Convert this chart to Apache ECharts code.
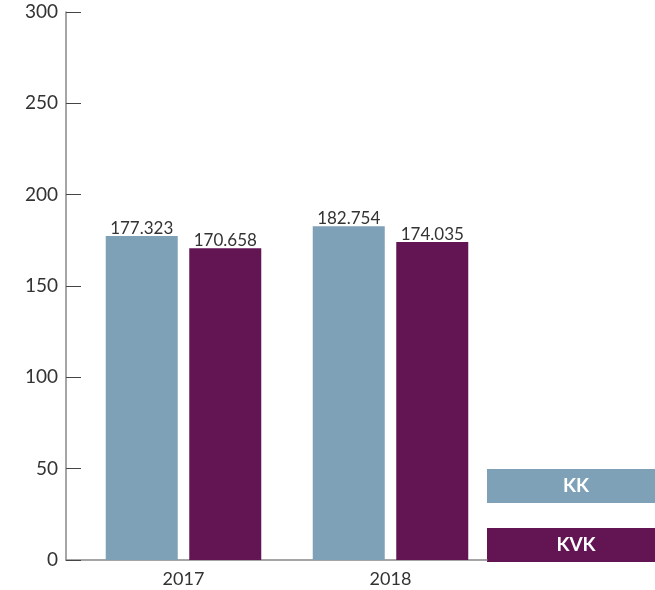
<!DOCTYPE html>
<html>
<head>
<meta charset="utf-8">
<script src="https://cdn.jsdelivr.net/npm/echarts@6/dist/echarts.min.js"></script>
<style>
  html, body { margin: 0; padding: 0; background: #fff; }
  #chart { width: 655px; height: 590px; }
</style>
</head>
<body>
<div id="chart"></div>
<script>
// data
var years = ["2017", "2018"];
var kk = [177.323, 182.754];
var kvk = [170.658, 174.035];
var seriesNames = ["KK", "KVK"];
var colors = ["#7ea1b8", "#621453"];

var myChart = echarts.init(document.getElementById("chart"));
var fontFamily = "Lato, 'Open Sans', sans-serif";

function fmt(v) {
  return v.toFixed(3);
}

var option = {
  animation: false,
  textStyle: { fontFamily: fontFamily },
  grid: [
    // axes frame
    { left: 66, right: 168, top: 12, bottom: 30 },
    // bars (shifted to match the original group positions)
    { left: 80, right: 161, top: 12, bottom: 30 }
  ],
  xAxis: [
    {
      gridIndex: 0,
      type: "category",
      data: years,
      axisLine: { lineStyle: { color: "#888", width: 1.5 } },
      axisTick: { show: false },
      axisLabel: { show: false }
    },
    {
      gridIndex: 1,
      type: "category",
      data: years,
      axisLine: { show: false },
      axisTick: { show: false },
      axisLabel: { color: "#333", fontSize: 18, margin: 10, fontFamily: fontFamily }
    }
  ],
  yAxis: [
    {
      gridIndex: 0,
      type: "value",
      min: 0,
      max: 300,
      interval: 50,
      axisLine: { show: true, lineStyle: { color: "#888", width: 1.5 } },
      axisTick: { show: true, inside: true, length: 15, lineStyle: { color: "#444" } },
      axisLabel: { color: "#333", fontSize: 19, margin: 8, fontFamily: fontFamily },
      splitLine: { show: false }
    },
    {
      gridIndex: 1,
      type: "value",
      min: 0,
      max: 300,
      interval: 50,
      show: false
    }
  ],
  series: [
    {
      name: seriesNames[0],
      type: "bar",
      xAxisIndex: 1,
      yAxisIndex: 1,
      barWidth: 72,
      barGap: "16%",
      data: kk,
      itemStyle: { color: colors[0] },
      label: {
        show: true,
        position: "top",
        distance: -1,
        color: "#333",
        fontSize: 17,
        fontFamily: fontFamily,
        formatter: function (p) { return fmt(p.value); }
      }
    },
    {
      name: seriesNames[1],
      type: "bar",
      xAxisIndex: 1,
      yAxisIndex: 1,
      barWidth: 72,
      barGap: "16%",
      data: kvk,
      itemStyle: { color: colors[1] },
      label: {
        show: true,
        position: "top",
        distance: -1,
        color: "#333",
        fontSize: 17,
        fontFamily: fontFamily,
        formatter: function (p) { return fmt(p.value); }
      }
    }
  ],
  // legend boxes
  graphic: [
    {
      type: "rect",
      left: 487, top: 469,
      shape: { width: 168, height: 34 },
      style: { fill: colors[0] }
    },
    {
      type: "text",
      x: 576, y: 486,
      style: {
        text: seriesNames[0], fill: "#fff", font: "bold 19px " + fontFamily,
        textAlign: "center", textVerticalAlign: "middle"
      }
    },
    {
      type: "rect",
      left: 487, top: 528,
      shape: { width: 168, height: 34 },
      style: { fill: colors[1] }
    },
    {
      type: "text",
      x: 576, y: 545,
      style: {
        text: seriesNames[1], fill: "#fff", font: "bold 19px " + fontFamily,
        textAlign: "center", textVerticalAlign: "middle"
      }
    }
  ]
};

myChart.setOption(option);
window.addEventListener("resize", function () {
  myChart.resize();
});
</script>
</body>
</html>
